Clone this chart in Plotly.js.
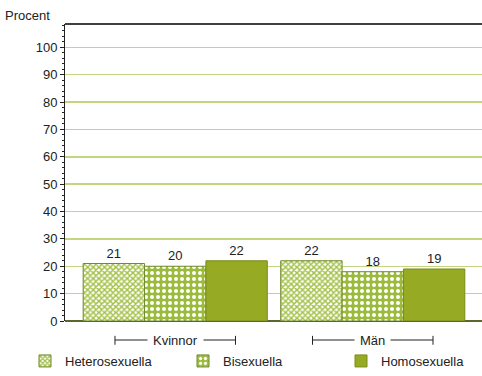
<!DOCTYPE html>
<html><head><meta charset="utf-8">
<script src="https://cdn.plot.ly/plotly-3.0.1.min.js"></script>
<style>html,body{margin:0;padding:0;background:#fff}#c{width:482px;height:376px}</style>
</head><body><div id="c"></div>
<script>
const categories = ['Kvinnor', 'Män'];
const seriesNames = ['Heterosexuella', 'Bisexuella', 'Homosexuella'];
const hetero = [21, 22];
const bi = [20, 18];
const homo = [22, 19];
const yTicks = [0,10,20,30,40,50,60,70,80,90,100];

const xIdx = categories.map((c,i)=>i);
const FONT = 'Liberation Sans, Arial, sans-serif';
const border = {color:'#6f8a2c', width:1};

const traces = [
  {name: seriesNames[0], y: hetero, legend:'legend',
   marker:{color:'#ffffff', line:border,
     pattern:{shape:'x', fgcolor:'#a2c044', bgcolor:'#ffffff', size:4, solidity:0.6}}},
  {name: seriesNames[1], y: bi, legend:'legend2',
   marker:{color:'#9cba3c', line:border,
     pattern:{shape:'.', fgcolor:'#ffffff', bgcolor:'#9cba3c', size:6, solidity:0.35}}},
  {name: seriesNames[2], y: homo, legend:'legend3',
   marker:{color:'#97aa24', line:{color:'#7a8c1c', width:1}}}
].map(t => Object.assign({type:'bar', x: xIdx, text: t.y.map(String),
  textposition:'outside', cliponaxis:false,
  textfont:{family:FONT, size:13, color:'#222'}, hoverinfo:'none'}, t));

const shapes = [{type:'line', xref:'paper', yref:'paper', x0:0, x1:1, y0:1, y1:1,
  line:{color:'#000', width:1.5}}];
const annotations = [{text:'Procent', xref:'paper', yref:'paper', x:-0.149, y:1.0,
  xanchor:'left', yanchor:'bottom', showarrow:false, yshift:-1,
  font:{family:FONT, size:13, color:'#222'}}];
xIdx.forEach((i)=>{
  const half = 0.305;
  shapes.push({type:'line', xref:'x', yref:'paper', x0:i-half, x1:i+half, y0:-0.064, y1:-0.064, line:{color:'#222', width:1}});
  shapes.push({type:'line', xref:'x', yref:'paper', x0:i-half, x1:i-half, y0:-0.050, y1:-0.080, line:{color:'#222', width:1}});
  shapes.push({type:'line', xref:'x', yref:'paper', x0:i+half, x1:i+half, y0:-0.050, y1:-0.080, line:{color:'#222', width:1}});
  annotations.push({xref:'x', yref:'paper', x:i, y:-0.064,
    showarrow:false, bgcolor:'#ffffff', borderpad:5, xanchor:'center', yanchor:'middle',
    font:{family:FONT, size:13, color:'#222'}, text: categories[i]});
});

function leg(xpx){
  return {orientation:'h', xref:'container', yref:'container', x:xpx/482, y:-0.013,
    xanchor:'left', yanchor:'bottom', bgcolor:'rgba(0,0,0,0)',
    font:{family:FONT, size:13, color:'#222'}};
}

const layout = {
  width:482, height:376,
  margin:{l:65, r:0, t:24, b:55},
  paper_bgcolor:'#fff', plot_bgcolor:'#fff',
  barmode:'group', bargap:0.068, bargroupgap:0,
  font:{family:FONT, size:13, color:'#222'},
  xaxis:{range:[-0.558, 1.553], showticklabels:false, ticks:'', showgrid:false,
    zeroline:false, showline:false, fixedrange:true},
  yaxis:{range:[0,108.5], tickvals:yTicks, ticktext:yTicks.map(String),
    ticks:'outside', ticklen:4, tickcolor:'#222', tickwidth:1,
    minor:{dtick:2, ticks:'outside', ticklen:2, tickcolor:'#222', showgrid:false},
    showline:true, linecolor:'#222', linewidth:1,
    showgrid:true, gridcolor:'#c2d57f', gridwidth:1.5,
    zeroline:true, zerolinecolor:'#5d6630', zerolinewidth:1.5,
    tickfont:{family:FONT, size:13, color:'#222'}, fixedrange:true},
  showlegend:true,
  legend: leg(25), legend2: leg(183), legend3: leg(341),
  shapes, annotations
};
Plotly.newPlot('c', traces, layout, {displayModeBar:false, staticPlot:true});
</script></body></html>
